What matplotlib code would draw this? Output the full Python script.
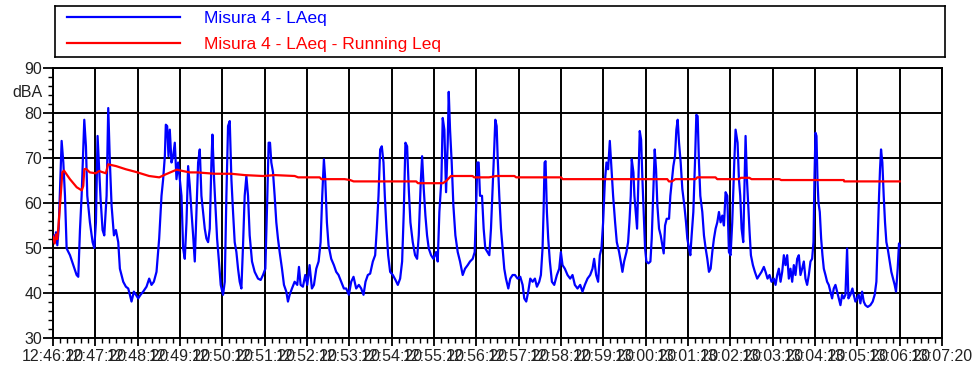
import matplotlib
matplotlib.use('Agg')
import matplotlib.pyplot as plt
from matplotlib.ticker import MultipleLocator

plt.rcParams['font.family'] = ['Liberation Sans', 'DejaVu Sans']

# tempo in minuti dall'inizio (12:46:20), livelli in dBA
t_laeq = [0.0, 0.024, 0.047, 0.071, 0.102, 0.134, 0.165, 0.204, 0.244, 0.283, 0.322, 0.401,
          0.479, 0.558, 0.597, 0.637, 0.676, 0.715, 0.739, 0.778, 0.81, 0.872, 0.935, 0.975,
          1.014, 1.053, 1.093, 1.124, 1.171, 1.211, 1.266, 1.305, 1.344, 1.384, 1.439, 1.486,
          1.541, 1.58, 1.659, 1.722, 1.777, 1.816, 1.855, 1.91, 1.958, 2.013, 2.068, 2.13,
          2.209, 2.272, 2.327, 2.382, 2.445, 2.508, 2.563, 2.602, 2.642, 2.665, 2.697, 2.728,
          2.759, 2.799, 2.838, 2.877, 2.917, 2.956, 2.995, 3.035, 3.074, 3.113, 3.153, 3.192,
          3.231, 3.271, 3.31,
          3.349, 3.388, 3.428, 3.467, 3.506, 3.546, 3.585, 3.624, 3.664, 3.703, 3.742, 3.766,
          3.805, 3.836, 3.876, 3.915, 3.962, 4.017, 4.057, 4.096, 4.135, 4.175, 4.214, 4.253,
          4.292, 4.332, 4.371, 4.41, 4.45, 4.489, 4.528, 4.568, 4.607, 4.646, 4.701, 4.764,
          4.843, 4.906, 4.961, 5.016, 5.063, 5.094, 5.126, 5.157, 5.197, 5.236, 5.275, 5.314,
          5.354, 5.409, 5.456, 5.511, 5.55, 5.59, 5.645, 5.708, 5.77, 5.81, 5.849, 5.904,
          5.959, 6.006, 6.061, 6.116, 6.164, 6.219, 6.274, 6.321, 6.36, 6.399, 6.431, 6.47,
          6.509, 6.572, 6.635, 6.69, 6.745, 6.808, 6.871,
          6.926, 6.989, 7.044, 7.099, 7.162, 7.225, 7.28, 7.335, 7.382, 7.437, 7.492, 7.555,
          7.61, 7.649, 7.689, 7.728, 7.767, 7.807, 7.838, 7.877, 7.917, 7.964, 8.027, 8.09,
          8.145, 8.2, 8.247, 8.286, 8.325, 8.365, 8.404, 8.443, 8.498, 8.553, 8.601, 8.64,
          8.687, 8.719, 8.758, 8.797, 8.836, 8.876, 8.931, 8.986, 9.049, 9.088, 9.127, 9.175,
          9.206, 9.245, 9.285, 9.324, 9.348, 9.379, 9.418, 9.458, 9.505, 9.56, 9.615, 9.678,
          9.733, 9.796, 9.851, 9.914, 9.961, 9.992, 10.024, 10.055, 10.087, 10.134, 10.173,
          10.212,
          10.307, 10.346, 10.385, 10.425, 10.448, 10.48, 10.503, 10.542, 10.582, 10.621,
          10.66, 10.7, 10.755, 10.802, 10.857, 10.912, 10.975, 11.038, 11.093, 11.132, 11.179,
          11.226, 11.274, 11.329, 11.384, 11.431, 11.486, 11.525, 11.564, 11.588, 11.612,
          11.635, 11.667, 11.698, 11.737, 11.785, 11.84, 11.903, 11.958, 11.997, 12.036,
          12.091, 12.154, 12.217, 12.272, 12.327, 12.39, 12.453, 12.508, 12.563, 12.626,
          12.689, 12.744, 12.783, 12.83, 12.877, 12.917, 12.956, 12.995, 13.035, 13.074,
          13.113, 13.153, 13.192, 13.231, 13.278, 13.318, 13.373, 13.412, 13.451, 13.491,
          13.546, 13.585, 13.616, 13.648, 13.671, 13.711,
          13.734, 13.766, 13.797, 13.829, 13.86, 13.892, 13.923, 13.954, 13.986, 14.017,
          14.065, 14.112, 14.143, 14.182, 14.214, 14.245, 14.277, 14.316, 14.355, 14.395,
          14.426, 14.458, 14.497, 14.552, 14.583, 14.615, 14.654, 14.693, 14.725, 14.756,
          14.788, 14.827, 14.866, 14.914, 14.953, 14.984, 15.024, 15.055, 15.086, 15.126,
          15.165, 15.197, 15.228, 15.259, 15.291, 15.338, 15.377, 15.417, 15.456, 15.495,
          15.535, 15.574, 15.613, 15.652, 15.692, 15.731, 15.77, 15.81, 15.849, 15.888,
          15.928, 15.967, 16.006, 16.045, 16.093, 16.124, 16.171, 16.203, 16.234, 16.266,
          16.305, 16.329, 16.36, 16.392, 16.423, 16.455, 16.486, 16.533, 16.58, 16.635,
          16.69, 16.737, 16.792, 16.832, 16.879, 16.926, 16.973,
          17.028, 17.068, 17.107, 17.146, 17.186, 17.225, 17.264, 17.303, 17.343, 17.382,
          17.421, 17.461, 17.5, 17.539, 17.579, 17.618, 17.657, 17.697, 17.736, 17.775,
          17.814, 17.854, 17.893, 17.932, 17.964, 17.987, 18.011, 18.035, 18.058, 18.082,
          18.113, 18.145, 18.176, 18.208, 18.247, 18.286, 18.325, 18.365, 18.404, 18.443,
          18.483, 18.522, 18.561, 18.601, 18.64, 18.679, 18.719, 18.758, 18.789, 18.836,
          18.884, 18.915, 18.954, 18.994, 19.033, 19.072, 19.112, 19.151, 19.19, 19.245,
          19.308, 19.363, 19.41, 19.45, 19.481, 19.513, 19.536, 19.56, 19.591, 19.623,
          19.654, 19.686, 19.717, 19.764, 19.803, 19.843, 19.882, 19.914, 19.953, 19.984,
          20.0]
laeq = [51.5, 52.8, 51.3, 53.5, 50.6, 54.3, 63.0, 73.8, 69.0, 61.6, 49.9, 48.4,
        46.2, 44.0, 43.6, 54.0, 61.6, 72.0, 78.5, 72.6, 61.6, 55.7, 51.3, 50.0,
        55.7, 74.9, 66.8, 60.9, 54.0, 52.8, 61.6, 81.1, 69.0, 59.4, 52.8, 54.0,
        51.3, 45.4, 42.5, 41.4, 41.0, 39.6, 38.1, 40.3, 39.6, 38.8, 39.6, 40.3,
        41.4, 43.2, 41.8, 42.5, 44.7, 52.1, 61.6, 65.3, 70.4, 77.4, 77.1, 70.4,
        76.3, 69.0, 70.4, 73.4, 65.3, 69.0, 65.3, 61.6, 49.9, 47.6, 55.7, 68.2,
        63.8, 58.0, 52.8,
        47.0, 58.0, 69.0, 71.9, 61.6, 58.0, 54.3, 52.1, 51.3, 54.3, 69.0, 75.2,
        65.3, 59.4, 52.1, 47.6, 41.8, 39.6, 42.5, 61.6, 77.1, 78.2, 65.3, 58.0,
        51.3, 49.1, 45.4, 42.5, 41.0, 50.6, 61.6, 66.0, 61.6, 52.8, 47.0, 44.7,
        43.2, 42.9, 44.0, 45.4, 61.6, 73.4, 73.4, 69.0, 66.8, 61.6, 55.7, 52.1,
        49.1, 45.4, 41.8, 40.3, 38.1, 39.6, 41.0, 42.5, 41.8, 45.8, 41.8, 41.4,
        44.0, 41.8, 46.2, 41.0, 41.8, 45.4, 47.0, 51.3, 61.6, 69.7, 65.3, 55.7,
        50.6, 47.6, 46.2, 44.7, 44.0, 42.5, 41.0,
        41.0, 39.6, 42.5, 43.6, 41.0, 41.8, 41.0, 39.6, 42.5, 44.0, 44.3, 47.0,
        48.4, 54.3, 61.6, 71.9, 72.6, 69.0, 61.6, 54.3, 48.4, 44.7, 44.0, 42.9,
        41.8, 43.2, 47.0, 58.0, 73.4, 72.6, 63.1, 55.7, 51.3, 48.4, 47.6, 52.8,
        64.6, 70.4, 63.1, 57.2, 52.8, 49.9, 48.4, 47.6, 49.1, 47.0, 58.0, 65.3,
        78.9, 76.3, 62.4, 73.4, 84.7, 76.3, 69.0, 59.4, 52.8, 49.1, 47.0, 44.0,
        45.4, 46.2, 47.0, 47.6, 49.1, 58.0, 69.0, 69.0, 61.6, 61.6, 54.3,
        49.9,
        48.4, 54.3, 63.1, 72.6, 78.5, 77.1, 70.4, 61.6, 54.3, 49.9, 45.4,
        43.2, 41.0, 43.2, 44.0, 44.0, 43.2, 43.6, 41.8, 38.8, 38.1, 40.3,
        43.2, 42.5, 43.2, 41.4, 42.5, 44.0, 49.9, 58.0, 69.0, 69.3,
        58.0, 52.1, 47.0, 42.5, 41.8, 44.0, 45.4, 49.1, 46.2, 45.4,
        44.0, 43.2, 44.0, 41.8, 41.0, 41.8, 40.3, 41.8, 43.2, 44.0,
        45.4, 47.6, 44.0, 42.5, 48.4, 49.9, 55.7, 64.6, 69.0, 67.5,
        73.8, 67.5, 61.6, 55.7, 51.3, 49.1, 47.0, 44.7, 47.0, 49.1,
        51.3, 55.7, 61.6, 69.7, 66.8,
        61.6, 58.0, 54.3, 65.3, 76.0, 74.1, 65.3, 58.0, 49.9, 47.0,
        46.6, 47.0, 52.1, 63.1, 71.9, 67.5, 59.4, 54.3, 52.8, 50.6,
        48.8, 55.0, 56.5, 56.5, 61.6, 64.6, 68.2, 70.4, 76.3, 78.5,
        73.4, 69.0, 63.1, 59.4, 55.7, 52.1, 49.9, 48.4, 52.8, 58.0,
        69.0, 79.6, 79.3, 69.0, 61.6, 58.0, 52.8, 49.9, 47.6, 44.7,
        45.4, 49.1, 52.1, 54.3, 55.7, 58.0, 55.7, 57.2, 55.0, 62.4,
        61.6, 49.1, 48.4, 55.7, 69.0, 76.3, 73.4, 65.3, 61.6, 54.3,
        51.3, 61.6, 74.9, 65.3, 59.4, 53.5, 48.4, 46.2, 44.7, 43.2,
        44.0, 44.7, 45.8, 44.7, 43.2, 44.0, 42.5,
        43.2, 41.8, 44.0, 45.4, 42.5, 44.7, 48.4, 46.2, 48.4, 43.2,
        45.4, 42.5, 46.2, 44.0, 47.6, 48.4, 44.0, 45.4, 47.0, 43.2,
        41.8, 44.0, 47.0, 47.6, 51.3, 65.3, 75.6, 74.9, 65.3, 60.1,
        58.0, 52.1, 48.4, 45.4, 44.0, 42.5, 41.8, 40.3, 38.8, 41.0,
        41.8, 40.3, 38.8, 37.3, 39.6, 38.8, 39.6, 49.9, 38.8, 39.6,
        41.0, 39.6, 38.1, 38.8, 39.6, 37.7, 40.3, 38.1, 37.3, 36.9,
        37.3, 38.1, 39.6, 42.5, 52.1, 61.6, 67.5, 71.9, 69.0, 61.6,
        55.7, 51.3, 49.9, 47.0, 44.7, 43.2, 41.8, 40.3, 45.4, 51.0,
        50.5]

t_run = [0.0, 0.04, 0.07, 0.1, 0.13, 0.165, 0.22, 0.26, 0.4, 0.56, 0.68, 0.715, 0.74, 0.78,
         0.87, 1.01, 1.09, 1.25, 1.3, 1.49, 1.72, 1.96, 2.27, 2.51, 2.67, 2.92, 3.07, 3.23,
         3.4, 3.82, 4.21, 4.53, 4.96, 5.24, 5.71, 5.79, 6.3, 6.34, 6.89, 7.02, 7.1, 8.58,
         8.62, 9.21, 9.29, 9.4, 9.91, 9.95, 10.3, 10.47, 10.9, 10.94, 12.0, 12.04, 13.72,
         14.51, 14.55, 14.62, 14.7, 15.18, 15.22, 15.65, 15.69, 16.2, 16.25, 16.45, 16.5,
         17.16, 17.2, 18.68, 18.69, 20.0]
run_leq = [52.5, 51.0, 53.0, 52.0, 55.0, 59.4, 66.8, 67.2, 65.3, 63.5, 62.8, 63.8, 67.5, 67.6,
           66.8, 66.6, 67.1, 66.6, 68.6, 68.2, 67.5, 66.9, 66.0, 65.7, 66.4, 67.4, 67.1, 66.8,
           66.8, 66.5, 66.5, 66.2, 66.0, 66.2, 66.0, 65.7, 65.7, 65.3, 65.3, 65.1, 64.8, 64.8,
           64.4, 64.4, 64.9, 66.0, 66.0, 65.7, 65.7, 66.0, 66.0, 65.7, 65.7, 65.3, 65.3,
           65.3, 64.8, 64.8, 65.3, 65.3, 65.7, 65.7, 65.3, 65.3, 65.6, 65.6, 65.3,
           65.3, 65.1, 65.1, 64.8, 64.8]

x_labels = ['12:46:20', '12:47:20', '12:48:20', '12:49:20', '12:50:20', '12:51:20',
            '12:52:20', '12:53:20', '12:54:20', '12:55:20', '12:56:20', '12:57:20',
            '12:58:20', '12:59:20', '13:00:20', '13:01:20', '13:02:20', '13:03:20',
            '13:04:20', '13:05:20', '13:06:20', '13:07:20']

fig = plt.figure(figsize=(9.78, 3.71), dpi=100)
ax = fig.add_axes([53/978, 33/371, 889/978, 270/371])

ax.plot(t_laeq, laeq, color='#0000ff', lw=1.6, label='Misura 4 - LAeq', zorder=3)
ax.plot(t_run, run_leq, color='#ff0000', lw=1.6, label='Misura 4 - LAeq - Running Leq', zorder=4)

ax.set_xlim(0, len(x_labels) - 1)
ax.set_ylim(30, 90)
ax.set_xticks(range(len(x_labels)))
ax.set_xticklabels(x_labels)
ax.xaxis.set_minor_locator(MultipleLocator(1/6))
ax.yaxis.set_major_locator(MultipleLocator(10))
ax.yaxis.set_minor_locator(MultipleLocator(2))
ax.grid(True, which='major', color='black', lw=1.4, zorder=1)
ax.set_axisbelow(True)
for s in ax.spines.values():
    s.set_linewidth(1.4)
ax.tick_params(axis='x', which='major', length=6, width=1.3, pad=2, labelsize=11.5, labelcolor='#222222')
ax.tick_params(axis='y', which='major', length=7.2, width=1.3, pad=0.7, labelsize=11.5, labelcolor='#222222')
ax.tick_params(which='minor', length=3.6, width=1)
ax.text(-0.029, 0.911, 'dBA', transform=ax.transAxes, ha='center', va='center',
        fontsize=11.5, color='#222222')

# riquadro legenda
lax = fig.add_axes([55/978, 1 - 57/371, 890/978, 51/371])
lax.set_xticks([])
lax.set_yticks([])
for s in lax.spines.values():
    s.set_linewidth(1.2)
h, l = ax.get_legend_handles_labels()
lax.legend(h, l, loc='center left', frameon=False, fontsize=12.5, handlelength=6.5,
           handletextpad=1.4, labelcolor='linecolor', borderaxespad=0.5, labelspacing=0.58,
           borderpad=0.2)

fig.savefig('out.png', dpi=100)
